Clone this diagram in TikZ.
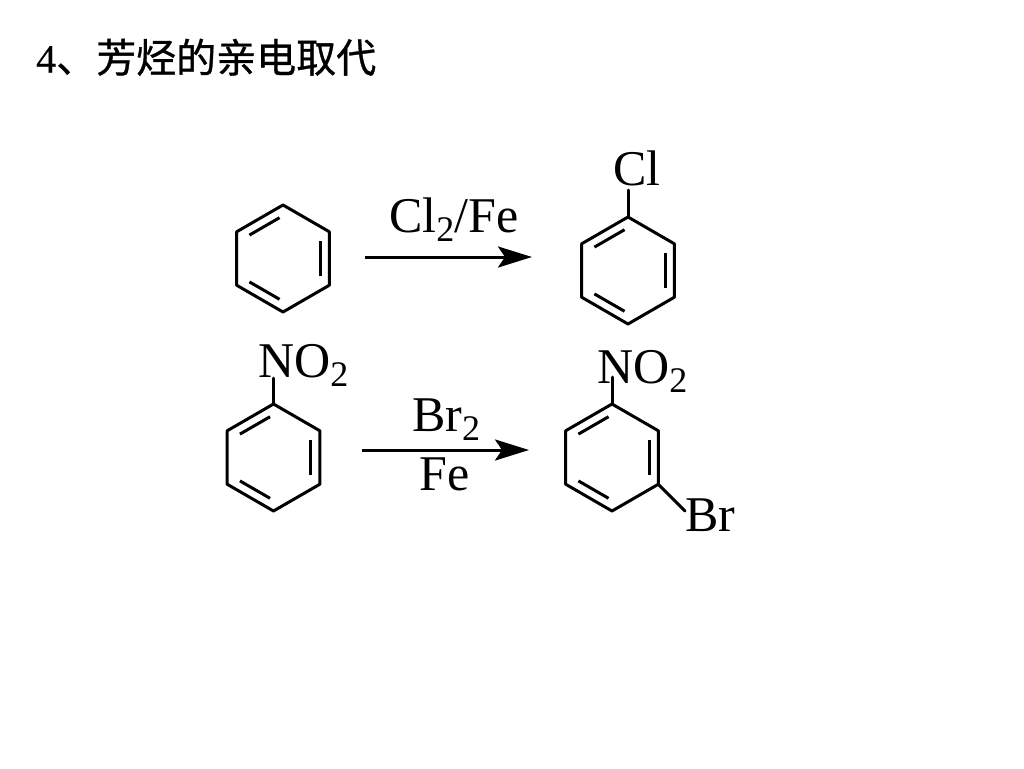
\documentclass[tikz,border=0pt]{standalone}
\usepackage{fontspec}
\setmainfont{Liberation Serif}
\newfontfamily\cjkfont[RawFeature={embolden=0.8}]{Noto Sans CJK SC}
\newfontfamily\titlenum[RawFeature={embolden=0.3}]{Liberation Serif}
\usetikzlibrary{arrows.meta,calc}
\newcommand{\subtwo}{\raisebox{-9pt}{\fontsize{36}{36}\selectfont 2}}
\tikzset{
  bond/.style={line width=3pt,line cap=round,line join=round},
  inner bond/.style={line width=3pt,line cap=butt,shorten >=4pt,shorten <=4pt},
  chem/.style={anchor=base west,inner sep=0pt,font=\fontsize{50}{50}\selectfont},
  title text/.style={anchor=base west,inner sep=0pt,font=\fontsize{40}{40}\selectfont},
  react/.style={line width=3pt,-{Stealth[length=34pt,width=21pt,inset=7pt]}}
}
% ring: name, cx, cy
\newcommand{\ringdraw}[3]{%
  \coordinate (#1c) at (#2,#3);
  \coordinate (#1a) at ($(#1c)+(0,-53.5)$);
  \coordinate (#1b) at ($(#1c)+(46.3,-26.75)$);
  \coordinate (#1d) at ($(#1c)+(46.3,26.75)$);
  \coordinate (#1e) at ($(#1c)+(0,53.5)$);
  \coordinate (#1f) at ($(#1c)+(-46.3,26.75)$);
  \coordinate (#1g) at ($(#1c)+(-46.3,-26.75)$);
  \draw[bond] (#1a) -- (#1b) -- (#1d) -- (#1e) -- (#1f) -- (#1g) -- cycle;
  \draw[inner bond] ($(#1c)!0.8!(#1b)$) -- ($(#1c)!0.8!(#1d)$);
  \draw[inner bond] ($(#1c)!0.8!(#1a)$) -- ($(#1c)!0.8!(#1g)$);
  \draw[inner bond] ($(#1c)!0.8!(#1e)$) -- ($(#1c)!0.8!(#1f)$);
}
\begin{document}
\begin{tikzpicture}[x=1pt,y=-1pt]
\useasboundingbox (0,0) rectangle (1024,768);
\fill[white] (0,0) rectangle (1024,768);
\node[title text] (title) at (36,72.5) {\titlenum 4\cjkfont 、芳烃的亲电取代};
% molecules
\ringdraw{A}{283}{258.5}
\ringdraw{B}{628}{270.5}
\ringdraw{C}{273.5}{457.5}
\ringdraw{D}{612}{457.5}
% labels
\node[chem] (cl) at (613,185.5) {Cl};
\node[chem] (no2a) at (258,377.5) {NO\subtwo};
\node[chem] (no2b) at (597,383.5) {NO\subtwo};
\node[chem] (br) at (685,531) {Br};
\node[chem] (r1) at (389,232) {Cl\subtwo/Fe};
\node[chem] (r2) at (412,431) {Br\subtwo};
\node[chem] (r3) at (419,490) {Fe};
% substituent bonds
\coordinate (clend) at (628,190);
\coordinate (no2aend) at (273.5,378);
\coordinate (no2bend) at (612,377);
\coordinate (brend) at (685,511);
\draw[bond] (clend) -- (Ba);
\draw[bond] (no2aend) -- (Ca);
\draw[bond] (no2bend) -- (Da);
\draw[bond] (brend) -- (Dd);
% reaction arrows
\coordinate (a1s) at (365,257);
\coordinate (a1e) at (532,257);
\coordinate (a2s) at (362,450);
\coordinate (a2e) at (529,450);
\draw[react] (a1s) -- (a1e);
\draw[react] (a2s) -- (a2e);
\end{tikzpicture}
\end{document}
